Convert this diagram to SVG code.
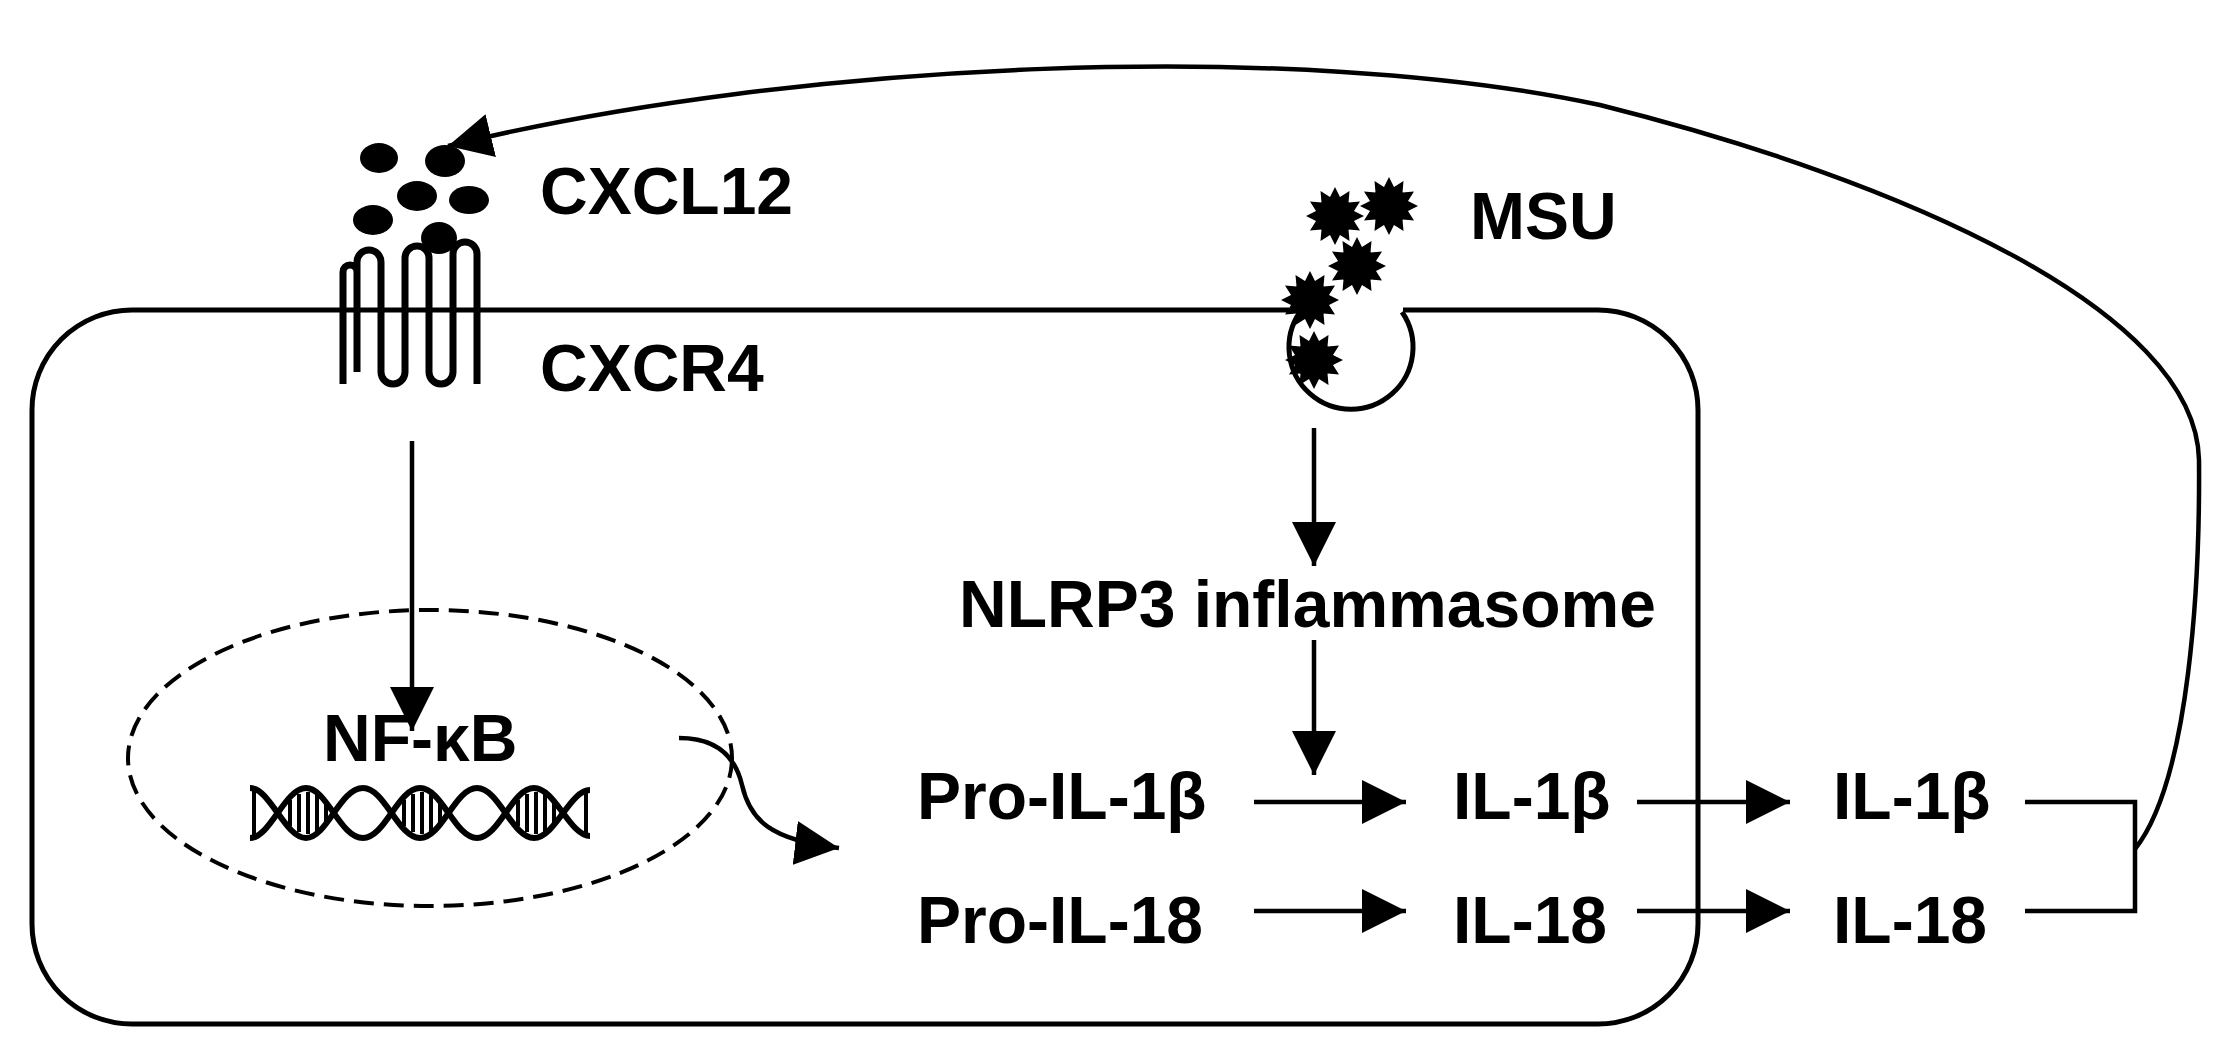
<svg xmlns="http://www.w3.org/2000/svg" width="2230" height="1060" viewBox="0 0 2230 1060">
<style>
.t{font-family:"Liberation Sans",Arial,sans-serif;font-weight:bold;font-size:66px;fill:#000}
.ln{fill:none;stroke:#000;stroke-width:5}
.ar{fill:none;stroke:#000;stroke-width:4.5}
</style>
<defs>
<marker id="ah" markerUnits="userSpaceOnUse" markerWidth="46" markerHeight="46" viewBox="0 0 46 46" refX="44" refY="22" orient="auto">
<path d="M0,0 L44,22 L0,44 z" fill="#000"/>
</marker>
<g id="star">
<circle r="19" fill="#000"/>
<polygon fill="#000" points="29,0 19,5 25,14.5 13.5,13.5 14.5,25 5,19 0,29 -5,19 -14.5,25 -13.5,13.5 -25,14.5 -19,5 -29,0 -19,-5 -25,-14.5 -13.5,-13.5 -14.5,-25 -5,-19 0,-29 5,-19 14.5,-25 13.5,-13.5 25,-14.5 19,-5"/>
</g>
</defs>
<rect width="2230" height="1060" fill="#fff"/>

<g id="cell">
<path class="ln" d="M1289,310 H132 A100,100 0 0 0 32,410 V924 A100,100 0 0 0 132,1024 H1598 A100,100 0 0 0 1698,924 V410 A100,100 0 0 0 1598,310 H1403"/>
<path class="ln" d="M1300,312 A62,62 0 1 0 1402,312"/>
</g>

<g id="cxcl12">
<ellipse cx="379" cy="158" rx="19" ry="15"/>
<ellipse cx="445" cy="161" rx="20" ry="16"/>
<ellipse cx="417" cy="196" rx="20" ry="15"/>
<ellipse cx="469" cy="200" rx="20" ry="14"/>
<ellipse cx="373" cy="220" rx="20" ry="15"/>
<ellipse cx="439" cy="238" rx="18" ry="16"/>
<text class="t" x="540" y="214">CXCL12</text>
</g>

<g id="cxcr4">
<path style="fill:none;stroke:#000;stroke-width:7" d="M343,384 V272 A7,7 0 0 1 357,272 V372 M357,372 V262 A12,12 0 0 1 381,262 V372 A12,12 0 0 0 405,372 V258 A12,12 0 0 1 429,258 V372 A12,12 0 0 0 453,372 V254 A12,12 0 0 1 477,254 V384"/>
<text class="t" x="540" y="391">CXCR4</text>
</g>

<g id="msu">
<use href="#star" x="1335" y="216"/>
<use href="#star" x="1389" y="206"/>
<use href="#star" x="1357" y="266"/>
<use href="#star" x="1310" y="300"/>
<use href="#star" x="1314" y="360"/>
<text class="t" x="1470" y="239">MSU</text>
</g>

<g id="nucleus">
<ellipse cx="430" cy="758" rx="302" ry="148" fill="none" stroke="#000" stroke-width="4" stroke-dasharray="20,10"/>
<text class="t" x="323" y="761" font-size="62">NF-κB</text>
<g id="dna" fill="none" stroke="#000" stroke-width="6">
<path d="M250,788 C270,788 285,838 306,838 C327,838 340,788 363,788 C385,788 398,838 420,838 C442,838 455,788 477,788 C499,788 512,838 534,838 C555,838 570,790 590,790"/>
<path d="M250,838 C270,838 285,788 306,788 C327,788 340,838 363,838 C385,838 398,788 420,788 C442,788 455,838 477,838 C499,838 512,788 534,788 C555,788 570,836 590,836"/>
<path stroke-width="4" d="M254,790 V836 M290,800 V826 M299,794 V832 M308,792 V834 M317,794 V832 M326,800 V826 M404,800 V826 M413,794 V832 M422,792 V834 M431,794 V832 M440,800 V826 M518,800 V826 M527,794 V832 M536,792 V834 M545,794 V832 M554,800 V826 M586,792 V834"/>
</g>
</g>

<g id="nlrp3"><text class="t" x="959" y="627">NLRP3 inflammasome</text></g>
<g id="proil1b"><text class="t" x="917" y="819">Pro-IL-1β</text></g>
<g id="proil18"><text class="t" x="917" y="943">Pro-IL-18</text></g>
<g id="il1b-in"><text class="t" x="1453" y="819">IL-1β</text></g>
<g id="il18-in"><text class="t" x="1453" y="943">IL-18</text></g>
<g id="il1b-out"><text class="t" x="1833" y="819">IL-1β</text></g>
<g id="il18-out"><text class="t" x="1833" y="943">IL-18</text></g>

<g id="connectors">
<path class="ar" d="M412,441 V731" marker-end="url(#ah)"/>
<path class="ar" d="M679,738 C715,738 735,755 742,785 C750,820 770,840 839,848" marker-end="url(#ah)"/>
<path class="ar" d="M1314,428 V566" marker-end="url(#ah)"/>
<path class="ar" d="M1314,640 V775" marker-end="url(#ah)"/>
<path class="ar" d="M1254,802 H1406" marker-end="url(#ah)"/>
<path class="ar" d="M1254,911 H1406" marker-end="url(#ah)"/>
<path class="ar" d="M1637,802 H1790" marker-end="url(#ah)"/>
<path class="ar" d="M1637,911 H1790" marker-end="url(#ah)"/>
<path class="ar" d="M2025,802 H2135 V911 H2025"/>
<path class="ar" d="M2135,849 C2190,780 2200,580 2199,460 C2196,310 1900,180 1600,105 C1300,40 800,60 448,146" marker-end="url(#ah)"/>
</g>
</svg>
